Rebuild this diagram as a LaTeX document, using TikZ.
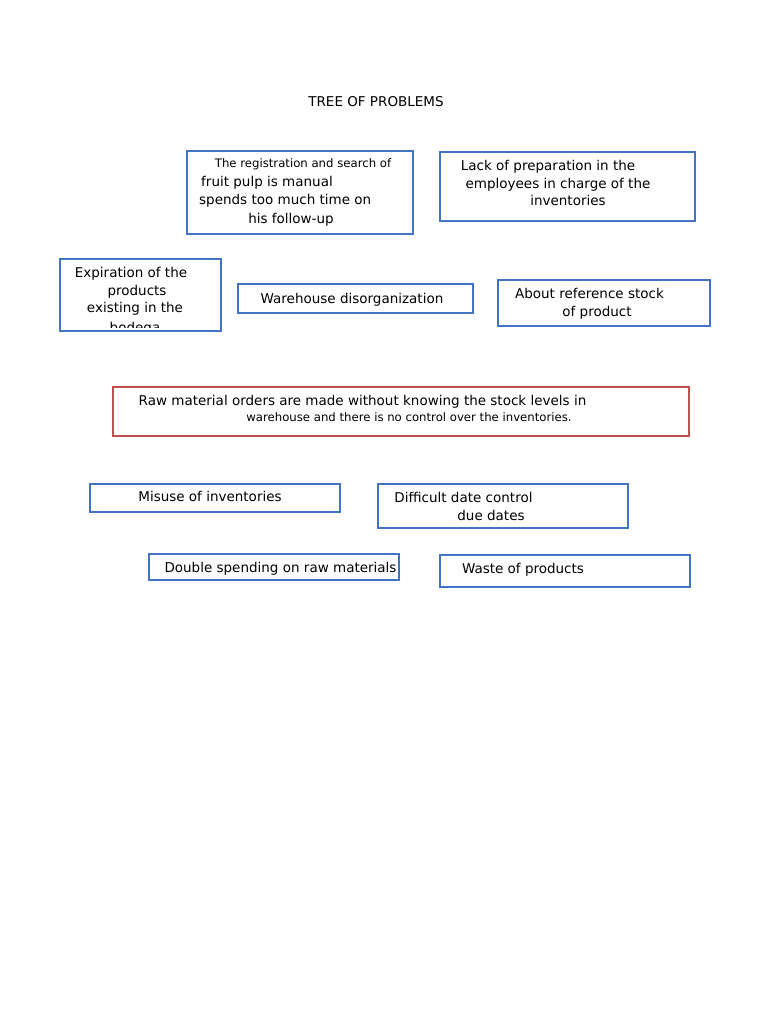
\documentclass[tikz,border=0pt]{standalone}
\usepackage{fontspec}
\setmainfont{DejaVu Sans}
\usepackage{xcolor}
\usepackage{tikz}
\definecolor{boxblue}{RGB}{68,114,196}
\definecolor{boxred}{RGB}{192,80,77}
\tikzset{
  causebox/.style={draw=boxblue, line width=2.6pt, inner sep=0pt, outer sep=0pt},
  corebox/.style={draw=boxred, line width=2.6pt, inner sep=0pt, outer sep=0pt},
  txt/.style={inner sep=0pt, text height=10.5pt, text depth=0.5pt, font=\fontsize{13.5}{16}\selectfont},
  smalltxt/.style={inner sep=0pt, text height=9.5pt, text depth=0.5pt, font=\fontsize{11.7}{14}\selectfont}
}

\begin{document}
\begin{tikzpicture}[x=1pt, y=-1pt]
\useasboundingbox (0,0) rectangle (768,1024);
\node[txt] (title) at (376,102) {TREE OF PROBLEMS};

% causes
\node[causebox, minimum width=226, minimum height=83] (regbox) at (300,192.5) {};
\node[smalltxt] (reg1) at (303,163) {The registration and search of};
\node[txt, anchor=west] (reg2) at (201,182) {fruit pulp is manual};
\node[txt, anchor=west] (reg3) at (199,200) {spends too much time on};
\node[txt] (reg4) at (291,218) {his follow-up};

\node[causebox, minimum width=255, minimum height=69] (prepbox) at (567.5,186.5) {};
\node[txt] (prep1) at (548,166) {Lack of preparation in the};
\node[txt] (prep2) at (558,184) {employees in charge of the};
\node[txt] (prep3) at (568,201) {inventories};

\node[causebox, minimum width=161, minimum height=72] (expbox) at (140.5,295) {};
\node[txt] (exp1) at (131,272) {Expiration of the};
\node[txt] (exp2) at (137,290) {products};
\node[txt] (exp3) at (135,307) {existing in the};
\begin{scope}
  \clip (62,250) rectangle (219,327);
  \node[txt] (exp4) at (135,327) {bodega};
\end{scope}

\node[causebox, minimum width=235, minimum height=29] (disbox) at (355.5,298.5) {};
\node[txt] (dis) at (352,298) {Warehouse disorganization};

\node[causebox, minimum width=212, minimum height=46] (stockbox) at (604,303) {};
\node[txt] (stock1) at (589.5,293) {About reference stock};
\node[txt] (stock2) at (597,311) {of product};

% central problem
\node[corebox, minimum width=576, minimum height=49] (rawbox) at (401,411.5) {};
\node[txt] (raw1) at (362.5,400) {Raw material orders are made without knowing the stock levels in};
\node[smalltxt] (raw2) at (409,417) {warehouse and there is no control over the inventories.};

% effects
\node[causebox, minimum width=250, minimum height=28] (misbox) at (215,498) {};
\node[txt] (mis) at (210,496) {Misuse of inventories};

\node[causebox, minimum width=250, minimum height=44] (datebox) at (503,506) {};
\node[txt] (date1) at (463.5,497) {Difficult date control};
\node[txt] (date2) at (491,515) {due dates};

\node[causebox, minimum width=250, minimum height=26] (dblbox) at (274,567) {};
\node[txt] (dbl) at (280.5,567) {Double spending on raw materials};

\node[causebox, minimum width=250, minimum height=32] (wastebox) at (565,571) {};
\node[txt] (waste) at (523,568) {Waste of products};
\end{tikzpicture}
\end{document}
